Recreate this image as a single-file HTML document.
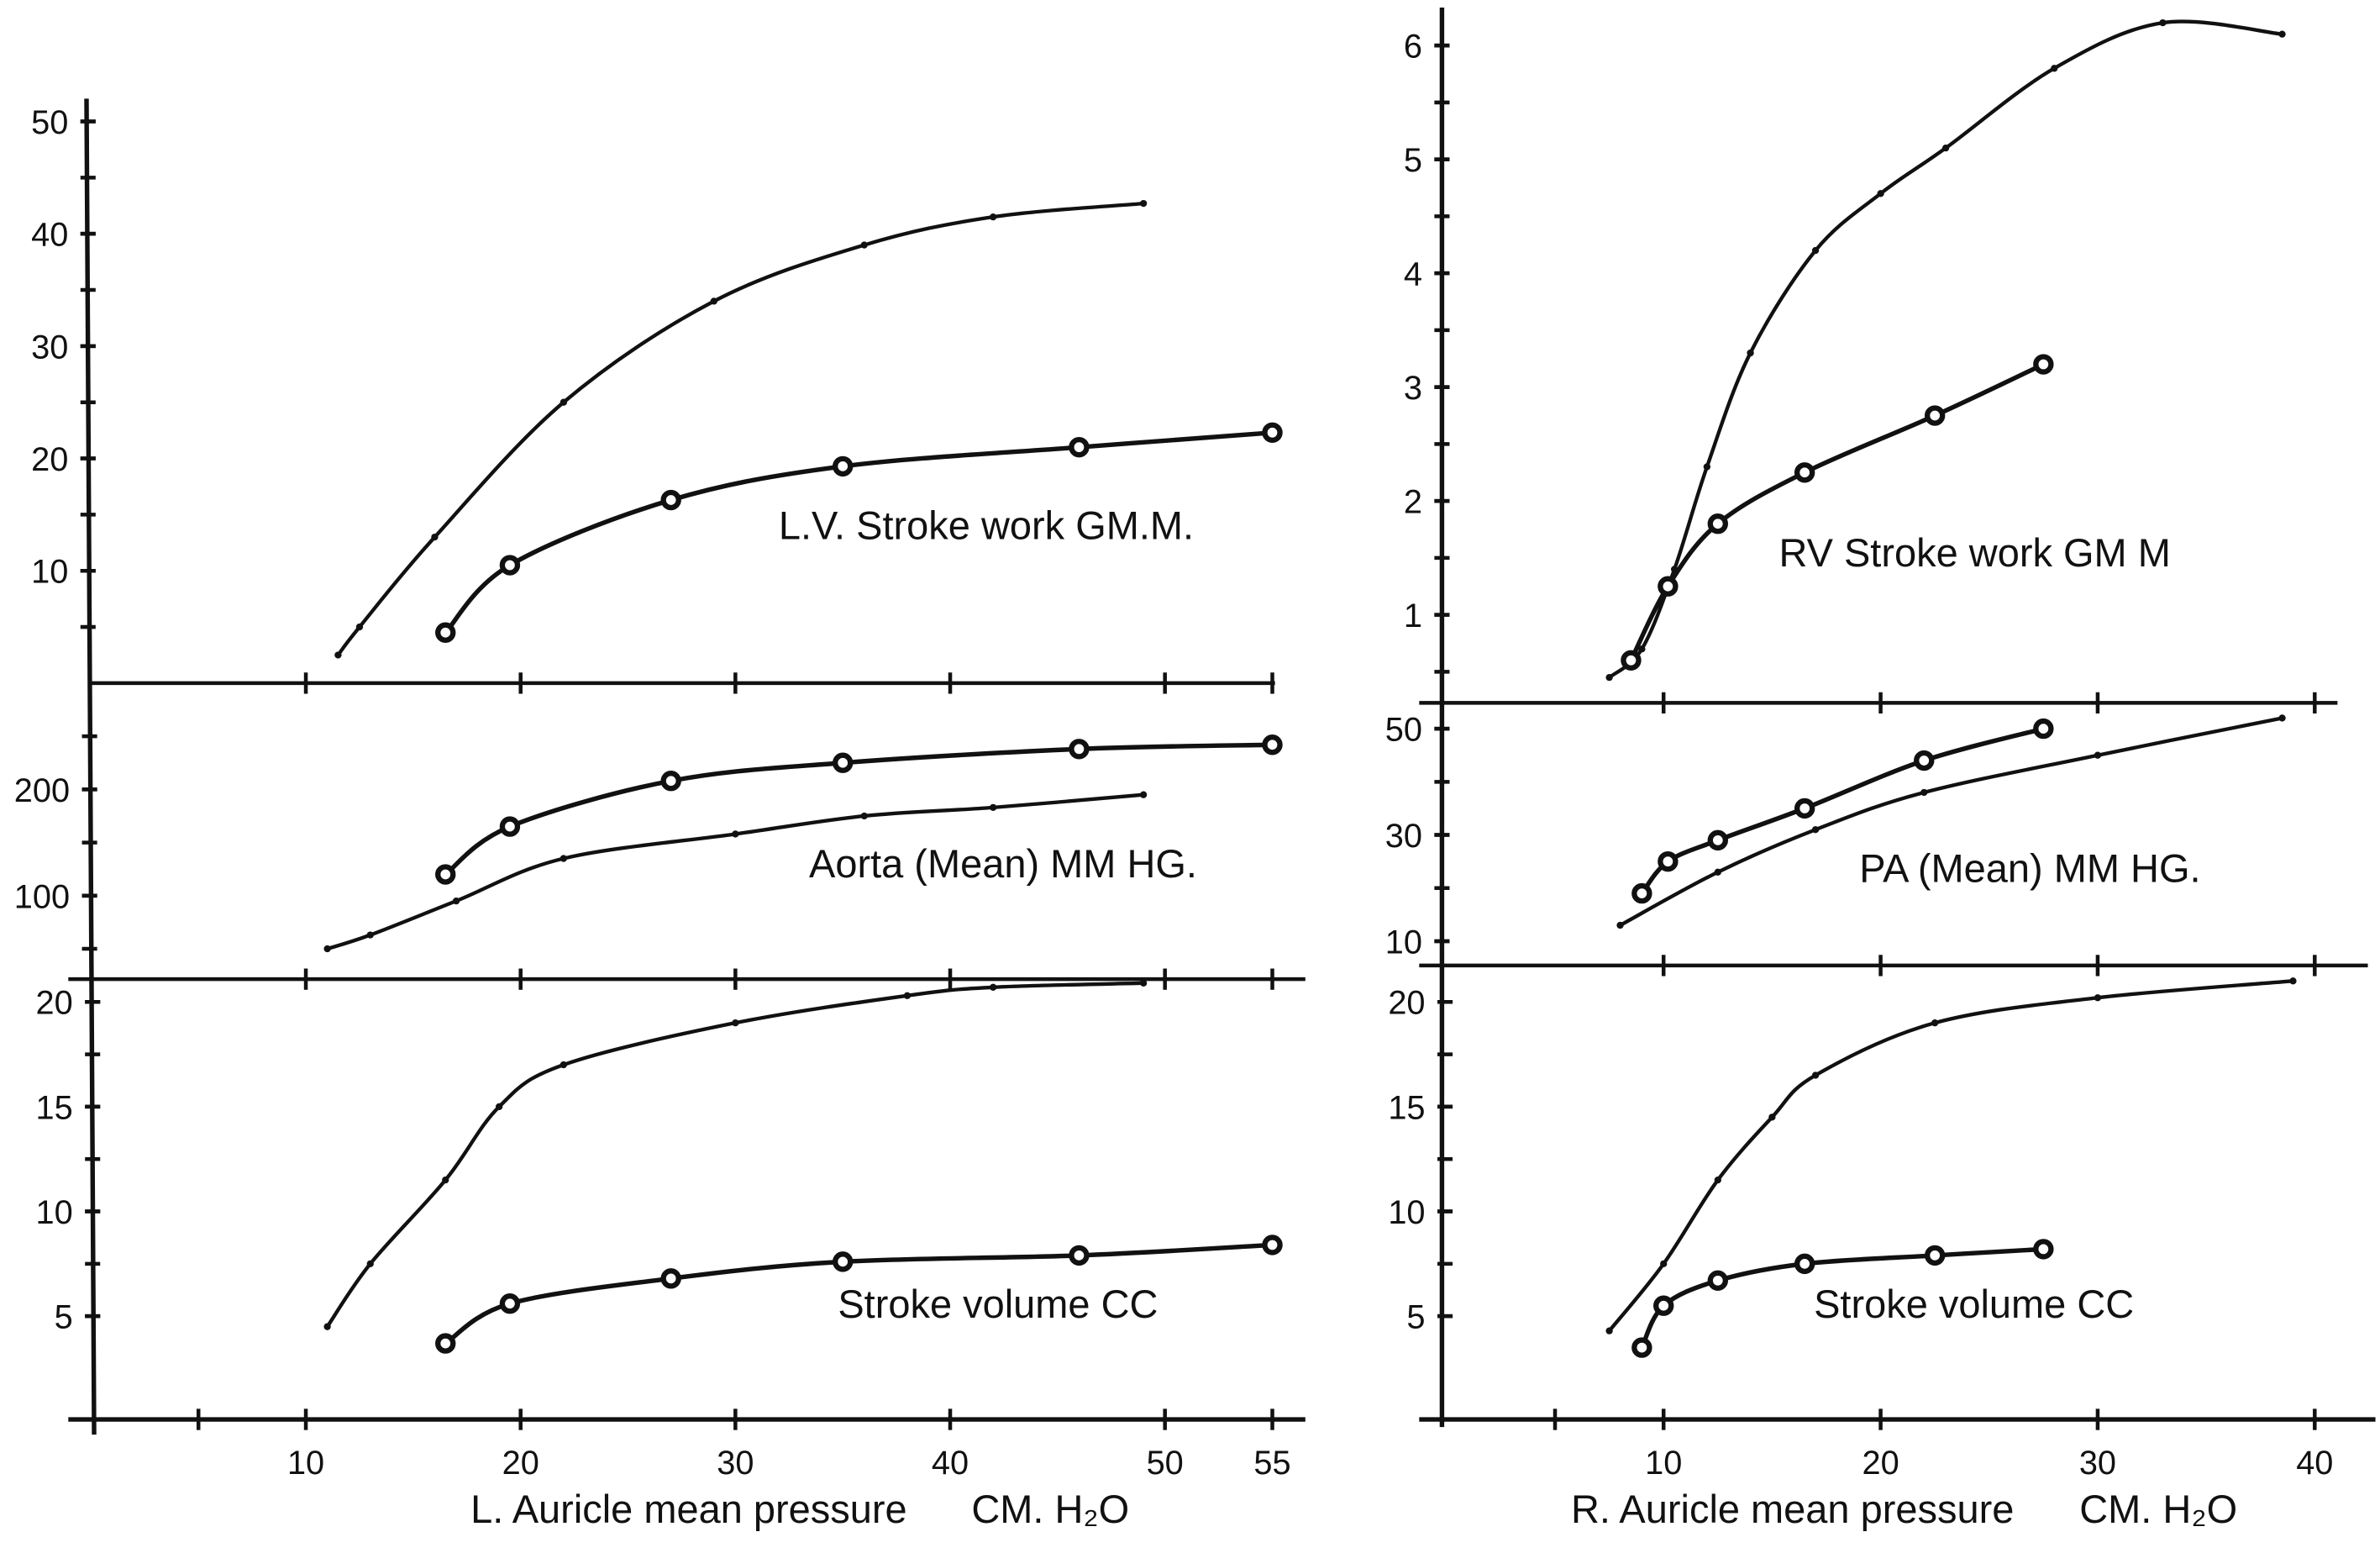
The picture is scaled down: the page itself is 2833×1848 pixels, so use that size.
<!DOCTYPE html>
<html><head><meta charset="utf-8"><style>
html,body{margin:0;padding:0;background:#fff}
svg{display:block}
text{font-family:"Liberation Sans",sans-serif;fill:#111}
</style></head><body>
<svg id="chart" width="2833" height="1848" viewBox="0 0 1568 1023" preserveAspectRatio="none" xmlns="http://www.w3.org/2000/svg"></svg>
<script>
// Left panels: x = L. auricle mean pressure (cm H2O)
const lvWorkDotsX=[11.5,12.5,16,22,29,36,42,49];
const lvWorkDotsY=[2.5,5,13,25,34,39,41.5,42.7];
const lvWorkRingX=[16.5,19.5,27,35,46,55];
const lvWorkRingY=[4.5,10.5,16.3,19.3,21,22.3];
const aortaDotsX=[11,13,17,22,30,36,42,49];
const aortaDotsY=[50,63,95,135,158,175,183,195];
const aortaRingX=[16.5,19.5,27,35,46,55];
const aortaRingY=[120,165,208,225,238,242];
const lSvDotsX=[11,13,16.5,19,22,30,38,42,49];
const lSvDotsY=[4.5,7.5,11.5,15,17,19,20.3,20.7,20.9];
const lSvRingX=[16.5,19.5,27,35,46,55];
const lSvRingY=[3.7,5.6,6.8,7.6,7.9,8.4];
// Right panels: x = R. auricle mean pressure
const rvWorkDotsX=[7.5,9,10.5,12,14,17,20,23,28,33,38.5];
const rvWorkDotsY=[0.45,0.7,1.4,2.3,3.3,4.2,4.7,5.1,5.8,6.2,6.1];
const rvWorkRingX=[8.5,10.2,12.5,16.5,22.5,27.5];
const rvWorkRingY=[0.6,1.25,1.8,2.25,2.75,3.2];
const paDotsX=[8,12.5,17,22,30,38.5];
const paDotsY=[13,23,31,38,45,52];
const paRingX=[9,10.2,12.5,16.5,22,27.5];
const paRingY=[19,25,29,35,44,50];
const rSvDotsX=[7.5,10,12.5,15,17,22.5,30,39];
const rSvDotsY=[4.3,7.5,11.5,14.5,16.5,19,20.2,21];
const rSvRingX=[9,10,12.5,16.5,22.5,27.5];
const rSvRingY=[3.5,5.5,6.7,7.5,7.9,8.2];
const leftXTicks=[10,20,30,40,50,55];
const rightXTicks=[10,20,30,40];
const lvTicks=[10,20,30,40,50];
const aortaTicks=[100,200];
const svTicks=[5,10,15,20];
const rvTicks=[1,2,3,4,5,6];
const paTicks=[10,30,50];

const NS="http://www.w3.org/2000/svg";
const svg=document.getElementById('chart');
function el(tag,attrs,parent){const e=document.createElementNS(NS,tag);for(const k in attrs)e.setAttribute(k,attrs[k]);(parent||svg).appendChild(e);return e;}
const lx=v=>60+v*14.15;
const rx=v=>953+v*14.3;
function lin(v0,p0,v1,p1){return v=>p0+(v-v0)*(p1-p0)/(v1-v0);}
function smooth(pts){let d=`M${pts[0][0]},${pts[0][1]}`;for(let i=0;i<pts.length-1;i++){const p0=pts[Math.max(i-1,0)],p1=pts[i],p2=pts[i+1],p3=pts[Math.min(i+2,pts.length-1)];const c1=[p1[0]+(p2[0]-p0[0])/6,p1[1]+(p2[1]-p0[1])/6],c2=[p2[0]-(p3[0]-p1[0])/6,p2[1]-(p3[1]-p1[1])/6];d+=` C${c1[0]},${c1[1]} ${c2[0]},${c2[1]} ${p2[0]},${p2[1]}`;}return d;}
function series(name,xs,ys,fx,fy,ring){
  const g=el('g',{});
  
  
  const pts=xs.map((x,i)=>[fx(x),fy(ys[i])]);
  const p=el('path',{d:smooth(pts),fill:'none',stroke:'#111','stroke-width':ring?3:2.4},g);
  
  
  pts.forEach(q=>{const c=el('circle',ring?{cx:q[0],cy:q[1],r:5,fill:'#fff',stroke:'#111','stroke-width':3.5}:{cx:q[0],cy:q[1],r:2.3,fill:'#111'},g);
    
    });
}
function line(x1,y1,x2,y2,name,w){const l=el('line',{x1,y1,x2,y2,stroke:'#111','stroke-width':w||2.5});
  
  }
function txt(x,y,s,name,anchor,size){const t=el('text',{x,y,'font-size':size||22,'text-anchor':anchor||'start'});t.textContent=s;
  
  return t;}
function yTicks(ax,vals,fy,name){vals.forEach(v=>{const y=fy(v);line(ax-5,y,ax+5,y,name+'-tick',2.5);txt(ax-13,y+8,String(v),name+'-tick-label','end');});}
function minor(ax,lo,hi,step,fy){for(let v=lo;v<=hi;v+=step){const y=fy(v);line(ax-5,y,ax+5,y,'minor-tick',2.5);}}
function xTickMarks(y,vals,fx){vals.forEach(v=>{const x=fx(v);line(x,y-7,x,y+7,'x-tick',2.5);});}

// Left axes
line(57,65,62,945,'left-y-axis',3);
line(60,450,840,450,'lv-baseline',2.5);
line(45,645,860,645,'aorta-baseline',2.5);
line(45,935,860,935,'left-x-axis',3);
xTickMarks(450,[10,20,30,40,50,55],lx);
xTickMarks(645,[10,20,30,40,50,55],lx);
xTickMarks(935,[5,10,20,30,40,50,55],lx);
leftXTicks.forEach(v=>txt(lx(v),971,String(v),'left-x-tick-label','middle'));
const fyLv=lin(0,450,50,80);minor(58,5,50,5,fyLv);yTicks(58,lvTicks,fyLv,'lv-work-y');
const fyAo=lin(100,590,200,520);minor(59,50,250,50,fyAo);yTicks(59,aortaTicks,fyAo,'aorta-y');
const fySvL=lin(0,936,20,660);minor(61,5,20,2.5,fySvL);yTicks(61,svTicks,fySvL,'left-sv-y');
series('lv-work-dots',lvWorkDotsX,lvWorkDotsY,lx,fyLv,false);
series('lv-work-rings',lvWorkRingX,lvWorkRingY,lx,fyLv,true);
series('aorta-dots',aortaDotsX,aortaDotsY,lx,fyAo,false);
series('aorta-rings',aortaRingX,aortaRingY,lx,fyAo,true);
series('left-sv-dots',lSvDotsX,lSvDotsY,lx,fySvL,false);
series('left-sv-rings',lSvRingX,lSvRingY,lx,fySvL,true);
txt(513,355,'L.V. Stroke work GM.M.','lv-work-label','start',26);
txt(533,578,'Aorta (Mean) MM HG.','aorta-label','start',26);
txt(552,868,'Stroke volume CC','left-sv-label','start',26);
txt(310,1003,'L. Auricle mean pressure','left-x-title','start',26);
txt(640,1003,'CM. H₂O','left-x-unit','start',26);

// Right axes
line(950,5,950,940,'right-y-axis',3);
line(935,463,1540,463,'rv-baseline',2.5);
line(935,636,1560,636,'pa-baseline',2.5);
line(935,935,1565,935,'right-x-axis',3);
xTickMarks(463,[10,20,30,40],rx);
xTickMarks(636,[10,20,30,40],rx);
xTickMarks(935,[5,10,20,30,40],rx);
rightXTicks.forEach(v=>txt(rx(v),971,String(v),'right-x-tick-label','middle'));
const fyRv=lin(1,405,6,30);minor(950,0.5,6,0.5,fyRv);yTicks(950,rvTicks,fyRv,'rv-work-y');
const fyPa=lin(10,620,50,480);minor(950,10,50,10,fyPa);yTicks(950,paTicks,fyPa,'pa-y');
const fySvR=lin(0,936,20,660);minor(952,5,20,2.5,fySvR);yTicks(952,svTicks,fySvR,'right-sv-y');
series('rv-work-dots',rvWorkDotsX,rvWorkDotsY,rx,fyRv,false);
series('rv-work-rings',rvWorkRingX,rvWorkRingY,rx,fyRv,true);
series('pa-dots',paDotsX,paDotsY,rx,fyPa,false);
series('pa-rings',paRingX,paRingY,rx,fyPa,true);
series('right-sv-dots',rSvDotsX,rSvDotsY,rx,fySvR,false);
series('right-sv-rings',rSvRingX,rSvRingY,rx,fySvR,true);
txt(1172,373,'RV Stroke work GM M','rv-work-label','start',26);
txt(1225,581,'PA  (Mean) MM HG.','pa-label','start',26).setAttribute('xml:space','preserve');
txt(1195,868,'Stroke volume CC','right-sv-label','start',26);
txt(1035,1003,'R. Auricle mean pressure','right-x-title','start',26);
txt(1370,1003,'CM. H₂O','right-x-unit','start',26);
</script>
</body></html>
